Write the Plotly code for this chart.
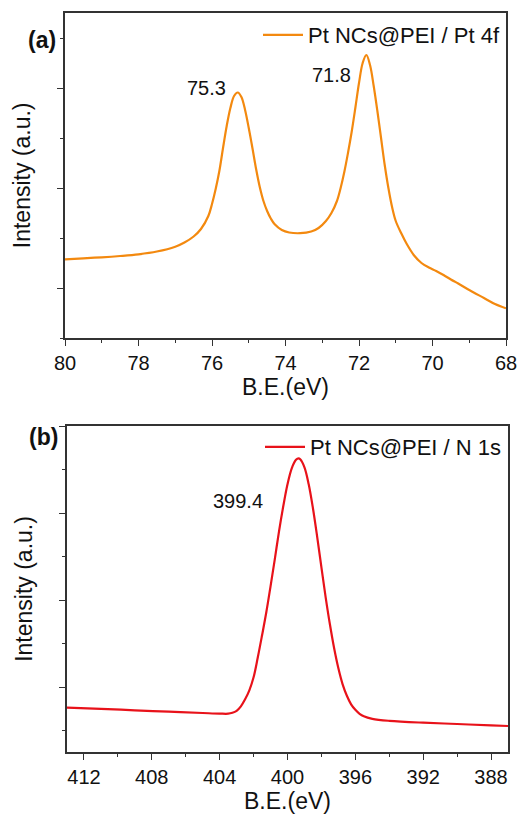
import plotly.graph_objects as go

# ---------------- data ----------------
# Panel (a): Pt 4f region
be_pt = [80.0, 79.5, 79.0, 78.5, 78.0, 77.5, 77.0, 76.75, 76.5, 76.3, 76.1, 76.0, 75.9, 75.8,
         75.7, 75.6, 75.5, 75.4, 75.3, 75.2, 75.1, 75.0, 74.9, 74.8, 74.7, 74.6, 74.5, 74.4,
         74.3, 74.1, 73.9, 73.6, 73.3, 73.1, 72.9, 72.75, 72.6, 72.5, 72.4, 72.3, 72.2, 72.1,
         72.0, 71.9, 71.8, 71.7, 71.6, 71.5, 71.4, 71.3, 71.2, 71.1, 71.0, 70.85, 70.7, 70.5,
         70.3, 70.1, 69.9, 69.7, 69.5, 69.3, 69.0, 68.6, 68.3, 68.0]
int_pt = [78.7, 79.7, 80.7, 82.0, 83.7, 86.5, 91.3, 95.5, 101.5, 109, 122, 134, 149, 167,
          190, 212, 230, 242, 245.5, 241, 228, 210, 190, 169, 151, 137, 127, 119.5,
          114, 108, 105.5, 104.8, 106.5, 110, 117, 125, 137, 150, 166, 185, 206, 230,
          255, 275, 283, 273, 252, 227, 200, 173, 150, 131, 117, 104.7, 94, 82.5,
          75, 70.5, 67, 63, 58.5, 54.5, 48, 40, 34, 29.7]

# Panel (b): N 1s region
be_n = [413.0, 411.0, 409.0, 407.0, 405.0, 404.0, 403.5, 403.25, 403.0, 402.75, 402.5, 402.25,
        402.0, 401.75, 401.5, 401.25, 401.0, 400.75, 400.5, 400.25, 400.0, 399.75, 399.5,
        399.35, 399.25, 399.0, 398.75, 398.5, 398.25, 398.0, 397.75, 397.5, 397.25, 397.0,
        396.75, 396.5, 396.25, 396.0, 395.75, 395.5, 395.0, 394.0, 392.0, 390.0, 388.0, 387.0]
int_n = [44.6, 43.5, 42.0, 40.6, 39.3, 38.7, 38.6, 39.5, 41.5, 46, 53, 62,
         75, 95, 117, 140, 166, 193, 221, 246, 268, 284, 292.5,
         294, 293, 285, 268, 244, 215.5, 185, 155, 128, 104, 84,
         68, 56.6, 48, 42.5, 38.5, 36, 33.5, 31.5, 29.6, 28.3, 26.9, 26.3]

name_a = "Pt NCs@PEI / Pt 4f"
name_b = "Pt NCs@PEI / N 1s"
peak_labels_a = ["75.3", "71.8"]
peak_label_pos_a = [(76.16, 250), (72.76, 263.5)]
peak_labels_b = ["399.4"]
peak_label_pos_b = [(402.93, 251.3)]

# ---------------- figure ----------------
W, H = 518, 817
ORANGE = "#F3890F"
RED = "#E8121A"
AXC = "#333333"
FONT = "Liberation Sans, Arial, sans-serif"

fig = go.Figure()
fig.add_trace(go.Scatter(x=be_pt, y=int_pt, mode="lines", name=name_a,
                         line=dict(color=ORANGE, width=2.2, shape="spline", smoothing=1.0),
                         xaxis="x", yaxis="y", legend="legend"))
fig.add_trace(go.Scatter(x=be_n, y=int_n, mode="lines", name=name_b,
                         line=dict(color=RED, width=2.2, shape="spline", smoothing=1.0),
                         xaxis="x2", yaxis="y2", legend="legend2"))

def px_x(p):
    return p / W

def px_y(p):
    return 1 - p / H

common_x = dict(showline=True, mirror=True, linecolor=AXC, linewidth=1.6,
                ticks="outside", ticklen=6, tickwidth=1.4, tickcolor=AXC,
                showgrid=False, zeroline=False,
                tickfont=dict(family=FONT, size=20, color="#111"),
                title_font=dict(family=FONT, size=23, color="#111"),
                automargin=False)
common_y = dict(showline=True, mirror=True, linecolor=AXC, linewidth=1.6,
                ticks="outside", ticklen=6, tickwidth=1.4, tickcolor=AXC,
                showgrid=False, zeroline=False, showticklabels=False,
                title_font=dict(family=FONT, size=23, color="#111"),
                automargin=False)

fig.update_layout(
    width=W, height=H,
    margin=dict(l=0, r=0, t=0, b=0),
    paper_bgcolor="white", plot_bgcolor="white",
    font=dict(family=FONT, color="#111"),
    xaxis=dict(common_x, domain=[px_x(65), px_x(506)], anchor="y",
               range=[80, 68], tick0=68, dtick=2,
               minor=dict(ticks="outside", ticklen=3, dtick=1, tickcolor=AXC, tickwidth=1.2),
               title=dict(text="B.E.(eV)", standoff=3)),
    yaxis=dict(common_y, domain=[px_y(338), px_y(12.7)], anchor="x",
               range=[0, 325.3], tick0=50, dtick=100,
               minor=dict(ticks="outside", ticklen=3, dtick=100, tick0=0, tickcolor=AXC, tickwidth=1.2),
               title=dict(text="Intensity (a.u.)", standoff=20)),
    xaxis2=dict(common_x, domain=[px_x(67), px_x(508)], anchor="y2",
                range=[413, 387], tick0=388, dtick=4,
                minor=dict(ticks="outside", ticklen=3, dtick=2, tickcolor=AXC, tickwidth=1.2),
                title=dict(text="B.E.(eV)", standoff=3)),
    yaxis2=dict(common_y, domain=[px_y(752.3), px_y(425.7)], anchor="x2",
                range=[0, 326.6], tick0=65.3, dtick=87,
                minor=dict(ticks="outside", ticklen=3, dtick=87, tick0=22.3, tickcolor=AXC, tickwidth=1.2),
                title=dict(text="Intensity (a.u.)", standoff=20)),
    legend=dict(x=px_x(505), y=px_y(14), xanchor="right", yanchor="top",
                bgcolor="rgba(0,0,0,0)", font=dict(family=FONT, size=22, color="#111"),
                itemwidth=40, tracegroupgap=0),
    legend2=dict(x=px_x(507), y=px_y(426), xanchor="right", yanchor="top",
                 bgcolor="rgba(0,0,0,0)", font=dict(family=FONT, size=22, color="#111"),
                 itemwidth=40, tracegroupgap=0),
    showlegend=True,
)

for txt, (xv, yv) in zip(peak_labels_a, peak_label_pos_a):
    fig.add_annotation(x=xv, y=yv, xref="x", yref="y", text=txt, showarrow=False,
                       font=dict(family=FONT, size=20, color="#111"))
for txt, (xv, yv) in zip(peak_labels_b, peak_label_pos_b):
    fig.add_annotation(x=xv, y=yv, xref="x2", yref="y2", text=txt, showarrow=False,
                       font=dict(family=FONT, size=20, color="#111"))

fig.add_annotation(x=px_x(26), y=px_y(25.5), xref="paper", yref="paper", text="<b>(a)</b>",
                   showarrow=False, font=dict(family=FONT, size=23, color="#111"))
fig.add_annotation(x=px_x(27), y=px_y(437), xref="paper", yref="paper", text="<b>(b)</b>",
                   showarrow=False, font=dict(family=FONT, size=23, color="#111"))

fig.write_html("out.html")
